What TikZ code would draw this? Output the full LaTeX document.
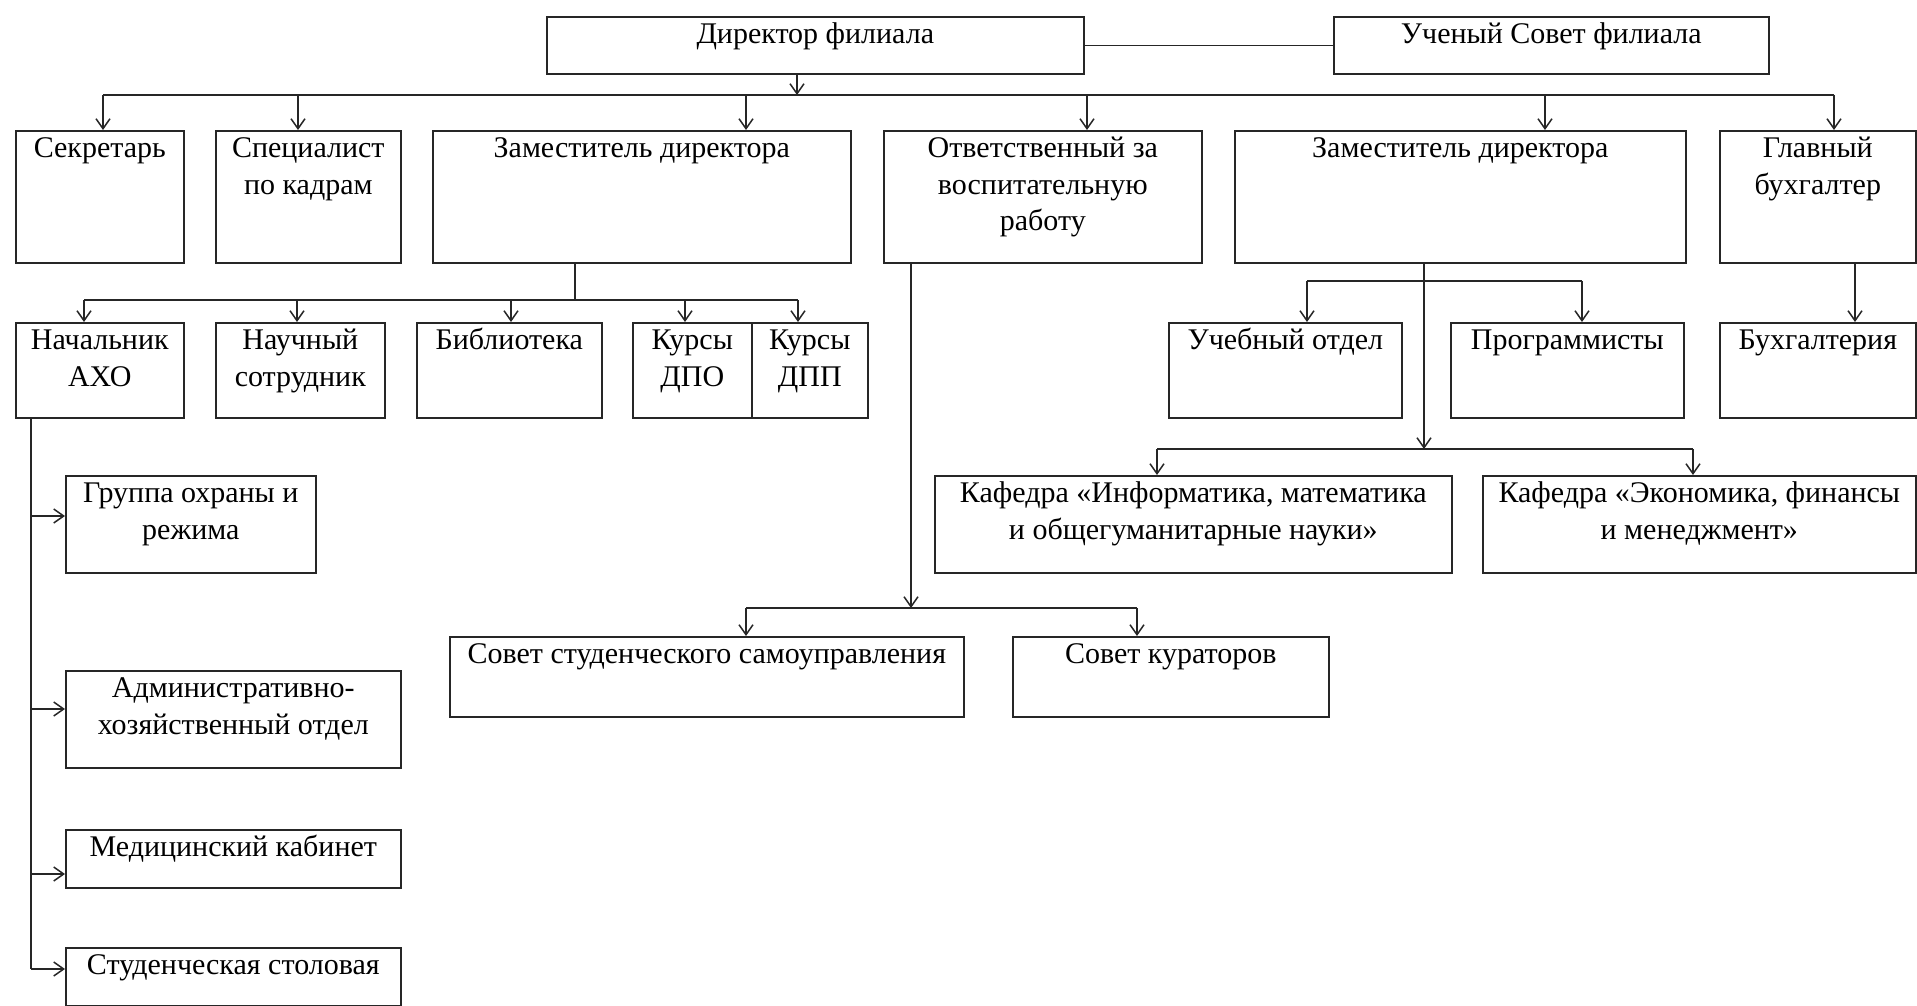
\documentclass[tikz,border=0pt]{standalone}
\usepackage{fontspec}
\setmainfont{Liberation Serif}
\usetikzlibrary{arrows.meta}
\tikzset{
  box/.style={draw=black!85, line width=1.6pt, inner sep=0pt, anchor=north west,
              font=\fontsize{30}{36.7}\selectfont},
  ln/.style={draw=black!85, line width=1.5pt},
  arr/.style={ln, -{Straight Barb[length=10pt,width=14pt]}},
}
\newcommand{\orgbox}[6]{%
  \node[box] (#1) at (#2,#3)
    {\parbox[t][\dimexpr #5pt-#3pt\relax][t]{\dimexpr #4pt-#2pt\relax}{\centering\vspace*{1pt}\strut #6}};}
\begin{document}
\begin{tikzpicture}[x=1pt,y=-1pt]
\useasboundingbox[fill=white] (0,0) rectangle (1917,1006);
% top
\orgbox{dir}{546}{16}{1083}{73}{Директор филиала}
\orgbox{us}{1333}{16}{1768}{73}{Ученый Совет филиала}
% row 1
\orgbox{sek}{15}{130}{183}{262}{Секретарь}
\orgbox{spec}{215}{130}{400}{262}{Специалист\\по кадрам}
\orgbox{zamA}{432}{130}{850}{262}{Заместитель директора}
\orgbox{otv}{883}{130}{1201}{262}{Ответственный за\\воспитательную\\работу}
\orgbox{zamB}{1234}{130}{1685}{262}{Заместитель директора}
\orgbox{glb}{1719}{130}{1915}{262}{Главный\\бухгалтер}
% row 2
\orgbox{axo}{15}{322}{183}{417}{Начальник\\АХО}
\orgbox{nauch}{215}{322}{384}{417}{Научный\\сотрудник}
\orgbox{bib}{416}{322}{601}{417}{Библиотека}
\orgbox{dpo}{632}{322}{751}{417}{Курсы\\ДПО}
\orgbox{dpp}{751}{322}{867}{417}{Курсы\\ДПП}
\orgbox{uch}{1168}{322}{1401}{417}{Учебный отдел}
\orgbox{prog}{1450}{322}{1683}{417}{Программисты}
\orgbox{buh}{1719}{322}{1915}{417}{Бухгалтерия}
% kafedras
\orgbox{kafA}{934}{475}{1451}{572}{Кафедра «Информатика, математика\\и общегуманитарные науки»}
\orgbox{kafB}{1482}{475}{1915}{572}{Кафедра «Экономика, финансы\\и менеджмент»}
% councils
\orgbox{sss}{449}{636}{963}{716}{Совет студенческого самоуправления}
\orgbox{sk}{1012}{636}{1328}{716}{Совет кураторов}
% AXO children
\orgbox{grp}{65}{475}{315}{572}{Группа охраны и\\режима}
\orgbox{aho}{65}{670}{400}{767}{Административно-\\хозяйственный отдел}
\orgbox{med}{65}{829}{400}{887}{Медицинский кабинет}
\orgbox{sto}{65}{947}{400}{1005}{Студенческая столовая}

% director - council link
\draw[ln] (dir.east) -- (us.west);
% top bus
\coordinate (td) at (797,95);
\coordinate (tsek) at (103,95);
\coordinate (tspec) at (298,95);
\coordinate (tzamA) at (746,95);
\coordinate (totv) at (1087,95);
\coordinate (tzamB) at (1545,95);
\coordinate (tglb) at (1834,95);
\draw[ln] (tsek) -- (tglb);
\draw[arr] (dir.south -| td) -- (td);
\foreach \c/\n in {tsek/sek,tspec/spec,tzamA/zamA,totv/otv,tzamB/zamB,tglb/glb}
  \draw[arr] (\c) -- (\c |- \n.north);
% deputy 1 bus
\coordinate (za) at (575,300);
\coordinate (zaxo) at (84,300);
\coordinate (znauch) at (297,300);
\coordinate (zbib) at (511,300);
\coordinate (zdpo) at (685,300);
\coordinate (zdpp) at (798,300);
\draw[ln] (zamA.south -| za) -- (za);
\draw[ln] (zaxo) -- (zdpp);
\foreach \c/\n in {zaxo/axo,znauch/nauch,zbib/bib,zdpo/dpo,zdpp/dpp}
  \draw[arr] (\c) -- (\c |- \n.north);
% deputy 2
\coordinate (zb1) at (1424,281);
\coordinate (zb2) at (1424,449);
\coordinate (zuch) at (1307,281);
\coordinate (zprog) at (1582,281);
\coordinate (zkafA) at (1157,449);
\coordinate (zkafB) at (1693,449);
\draw[ln] (zamB.south -| zb1) -- (zb1);
\draw[arr] (zb1) -- (zb2);
\draw[ln] (zuch) -- (zprog);
\draw[ln] (zkafA) -- (zkafB);
\foreach \c/\n in {zuch/uch,zprog/prog,zkafA/kafA,zkafB/kafB}
  \draw[arr] (\c) -- (\c |- \n.north);
% chief accountant
\coordinate (gb) at (1855,262);
\draw[arr] (glb.south -| gb) -- (buh.north -| gb);
% responsible for education
\coordinate (o1) at (911,608);
\coordinate (osss) at (746,608);
\coordinate (osk) at (1137,608);
\draw[arr] (otv.south -| o1) -- (o1);
\draw[ln] (osss) -- (osk);
\foreach \c/\n in {osss/sss,osk/sk}
  \draw[arr] (\c) -- (\c |- \n.north);
% AXO branch
\coordinate (ax) at (31,969);
\coordinate (agrp) at (31,516);
\coordinate (aaho) at (31,709);
\coordinate (amed) at (31,874);
\draw[ln] (axo.south -| ax) -- (ax);
\foreach \c/\n in {agrp/grp,aaho/aho,amed/med,ax/sto}
  \draw[arr] (\c) -- (\c -| \n.west);
\end{tikzpicture}
\end{document}
